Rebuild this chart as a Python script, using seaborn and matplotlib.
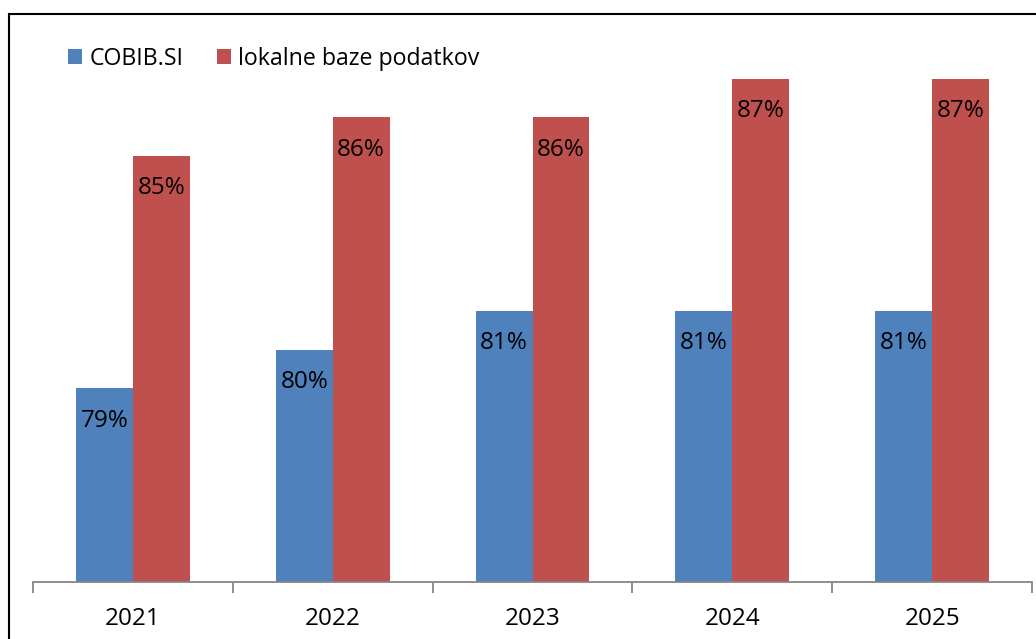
import matplotlib
matplotlib.use("Agg")
import matplotlib.pyplot as plt
import seaborn as sns
import pandas as pd
from matplotlib.patches import Patch, Rectangle
from matplotlib.ticker import FixedLocator

years = ["2021", "2022", "2023", "2024", "2025"]
cobib = [79, 80, 81, 81, 81]
lokalne = [85, 86, 86, 87, 87]
series_names = ["COBIB.SI", "lokalne baze podatkov"]
colors = ["#4F81BD", "#C0504D"]

df = pd.DataFrame({
    "year": years * 2,
    "value": cobib + lokalne,
    "series": [series_names[0]] * len(years) + [series_names[1]] * len(years),
})

sns.set_theme(style="white")
plt.rcParams["font.family"] = ["Open Sans", "DejaVu Sans"]
plt.rcParams["text.color"] = "black"

W, H = 1036, 639
fig = plt.figure(figsize=(W / 100, H / 100), dpi=100)
ax = fig.add_axes([33 / W, 1 - 582 / H, (1032 - 33) / W, (582 - 40) / H])

sns.barplot(data=df, x="year", y="value", hue="series", palette=colors,
            saturation=1, width=0.57, linewidth=0, ax=ax, legend=False)

ax.set_ylim(74, 88)
ax.set_xlim(-0.5, len(years) - 0.5)
ax.set_xlabel("")
ax.set_ylabel("")
ax.set_yticks([])
for s in ["top", "right", "left"]:
    ax.spines[s].set_visible(False)
ax.spines["bottom"].set_color("#868686")
ax.spines["bottom"].set_linewidth(1.3)

ax.xaxis.set_minor_locator(FixedLocator([i - 0.5 for i in range(len(years) + 1)]))
ax.tick_params(axis="x", which="minor", length=8, width=1.3, color="#868686", bottom=True)
ax.tick_params(axis="x", which="major", length=0, pad=18, labelsize=17.5, labelcolor="black", bottom=True)

# value labels inside bars
for cont, vals in zip(ax.containers, [cobib, lokalne]):
    for bar, v in zip(cont, vals):
        ax.text(bar.get_x() + bar.get_width() / 2, v - 0.83, f"{v}%",
                ha="center", va="center", fontsize=17.5, color="black")

handles = [Patch(facecolor=c, edgecolor="none") for c in colors]
fig.legend(handles, series_names, loc="center left",
           bbox_to_anchor=(68 / W, 1 - 59 / H), ncol=2, frameon=False,
           fontsize=16.7, handlelength=0.62, handleheight=0.62, labelcolor="black",
           handletextpad=0.3, columnspacing=1.45, borderaxespad=0, borderpad=0)

fig.patches.append(Rectangle((8.5 / W, -0.1), 2, 1 - 14.5 / H + 0.1, fill=False,
                             edgecolor="black", linewidth=1.5,
                             transform=fig.transFigure, figure=fig))

fig.savefig("out.png", dpi=100, facecolor="white")
